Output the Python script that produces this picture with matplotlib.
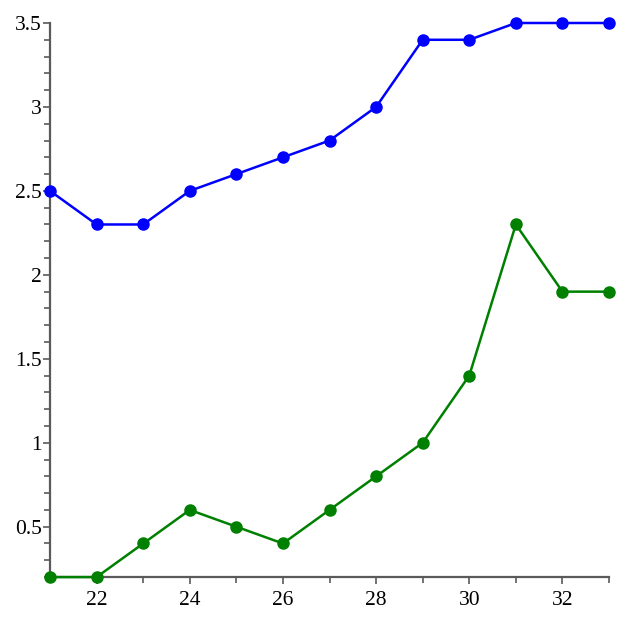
import matplotlib
matplotlib.use("Agg")
import matplotlib.pyplot as plt
from matplotlib.ticker import MultipleLocator

# values
x = [21, 22, 23, 24, 25, 26, 27, 28, 29, 30, 31, 32, 33]
blueVals = [2.5, 2.3, 2.3, 2.5, 2.6, 2.7, 2.8, 3.0, 3.4, 3.4, 3.5, 3.5, 3.5]
greenVals = [0.2, 0.2, 0.4, 0.6, 0.5, 0.4, 0.6, 0.8, 1.0, 1.4, 2.3, 1.9, 1.9]
xTicks = [22, 24, 26, 28, 30, 32]

plt.rcParams['font.family'] = ['Liberation Serif', 'DejaVu Serif']

fig = plt.figure(figsize=(6.3, 6.3), dpi=100)
ax = fig.add_axes([0.0794, 0.0840, 0.8873, 0.8795])

ax.plot(x, blueVals, color='#0000ff', linewidth=1.8, marker='o', markersize=8, clip_on=False, zorder=3)
ax.plot(x, greenVals, color='#008000', linewidth=1.8, marker='o', markersize=8, clip_on=False, zorder=3)

ax.set_xlim(21, 33)
ax.set_ylim(0.2, 3.5)

ax.set_xticks(xTicks)
ax.xaxis.set_minor_locator(MultipleLocator(1))
ax.yaxis.set_major_locator(MultipleLocator(0.5))
ax.yaxis.set_minor_locator(MultipleLocator(0.1))
ax.yaxis.set_major_formatter(plt.FuncFormatter(lambda v, pos: '%g' % v))

for side in ['top', 'right']:
    ax.spines[side].set_visible(False)
for side in ['left', 'bottom']:
    ax.spines[side].set_color('#5a5a5a')
    ax.spines[side].set_linewidth(1.6)

ax.tick_params(which='both', colors='#5a5a5a', width=1.2)
ax.tick_params(which='major', length=5, labelsize=15.5, labelcolor='black', pad=1)
ax.tick_params(which='minor', length=4)
ax.tick_params(axis='x', which='major', pad=5)

plt.savefig('out.png', dpi=100)
